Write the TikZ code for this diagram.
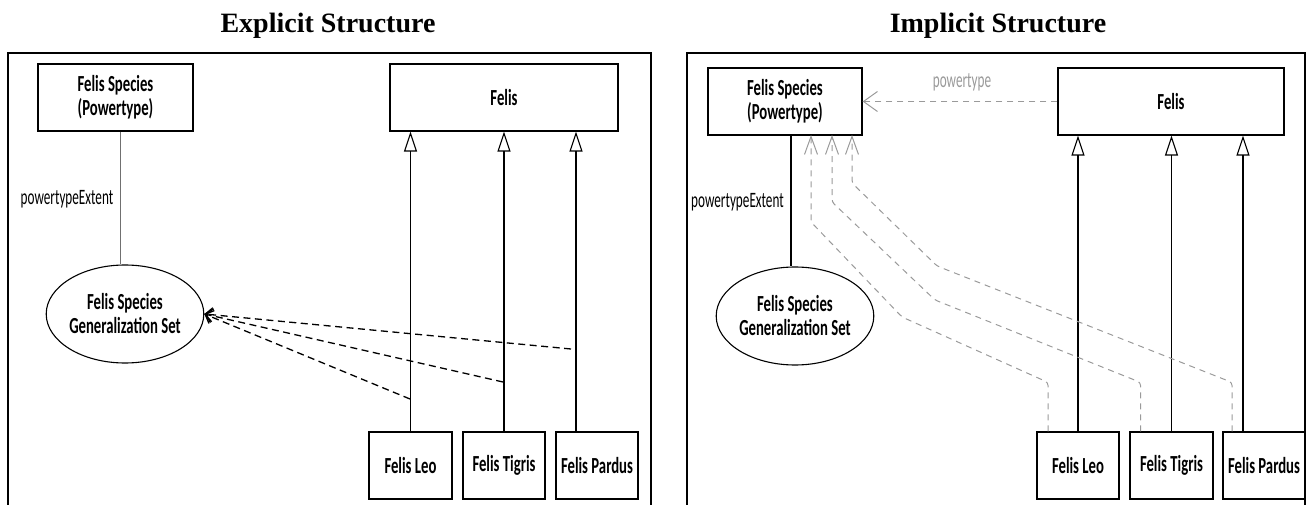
\documentclass[tikz,border=0pt]{standalone}
\usepackage{fontspec}
\setmainfont{Liberation Serif}
\newfontfamily\umlfont[FakeStretch=0.64]{Carlito}
\newfontfamily\umllabelfont[FakeStretch=0.6]{Carlito}
\usetikzlibrary{arrows.meta,shapes.geometric}
\definecolor{dashgray}{HTML}{9A9A9A}
\definecolor{linegray}{HTML}{707070}

\begin{document}
\begin{tikzpicture}[x=1pt,y=-1pt,
  cls/.style={draw, rectangle, line width=1.2pt, minimum height=67pt, align=center, inner sep=2pt,
    font=\umlfont\bfseries\fontsize{23}{24}\selectfont},
  gset/.style={draw, ellipse, line width=1.1pt, minimum width=154pt, minimum height=98pt, align=center,
    inner sep=0pt, font=\umlfont\bfseries\fontsize{23}{24}\selectfont},
  lbl/.style={font=\umllabelfont\fontsize{22}{22}\selectfont},
  title/.style={anchor=base, font=\bfseries\fontsize{28}{30}\selectfont},
  frame/.style={draw, line width=2.2pt},
  gen/.style={draw, line width=1.1pt, -{Triangle[open,length=20pt,width=13pt]}},
  gsdep/.style={draw, line width=1.3pt, dash pattern=on 7pt off 4.5pt, -{Straight Barb[length=7pt,width=14pt]}},
  ptdep/.style={draw, dashgray, line width=1pt, dash pattern=on 6pt off 5pt, rounded corners=3pt,
    -{Straight Barb[length=18pt,width=13pt]}}]
\useasboundingbox (0,0) rectangle (1307,505);
\clip (0,0) rectangle (1307,505);

% titles and frames
\node[title] (tExpl) at (328,33) {Explicit Structure};
\node[title] (tImpl) at (998,33) {Implicit Structure};
\path[frame] (8,53) rectangle (651,508);
\path[frame] (687,53) rectangle (1305,508);

% explicit structure
\node[cls, minimum width=155pt] (ptL) at (115.5,97.5) {Felis Species\\(Powertype)};
\node[cls, minimum width=228pt] (felisL) at (504,97.5) {Felis};
\node[gset] (gsL) at (125,314) {Felis Species\\Generalization Set};
\node[cls, minimum width=83pt] (leoL) at (410.5,465.5) {Felis Leo};
\node[cls, minimum width=82pt] (tigrisL) at (504,465.5) {Felis Tigris};
\node[cls, minimum width=82pt] (pardusL) at (597,465.5) {Felis Pardus};
\node[lbl] (extL) at (67,199) {powertypeExtent};

\path[draw,linegray,line width=1.1pt] ([xshift=5pt]ptL.south) -- ([xshift=5pt]ptL.south |- gsL.north);
\path[gen] (leoL.north) -- (leoL.north |- felisL.south);
\path[gen] (tigrisL.north) -- (tigrisL.north |- felisL.south);
\path[gen] ([xshift=-21pt]pardusL.north) -- ([xshift=-21pt]pardusL.north |- felisL.south);

\coordinate (onLeo) at (410,399);
\coordinate (onTigris) at (503,382);
\coordinate (onPardus) at (571,349);
\path[gsdep] (onLeo) -- (gsL.east);
\path[gsdep] (onTigris) -- (gsL.east);
\path[gsdep] (onPardus) -- (gsL.east);

% implicit structure
\node[cls, minimum width=154pt] (ptR) at (785,101.5) {Felis Species\\(Powertype)};
\node[cls, minimum width=226pt] (felisR) at (1171,101.5) {Felis};
\node[gset] (gsR) at (795,316) {Felis Species\\Generalization Set};
\node[cls, minimum width=82pt] (leoR) at (1078,465.5) {Felis Leo};
\node[cls, minimum width=83pt] (tigrisR) at (1171.5,465.5) {Felis Tigris};
\node[cls, minimum width=82pt] (pardusR) at (1264,465.5) {Felis Pardus};
\node[lbl] (extR) at (737.5,202) {powertypeExtent};
\node[lbl, dashgray] (ptLabel) at (962,82) {powertype};

\path[draw,line width=1.1pt] ([xshift=6pt]ptR.south) -- ([xshift=6pt]ptR.south |- gsR.north);
\path[gen] (leoR.north) -- (leoR.north |- felisR.south);
\path[gen] (tigrisR.north) -- (tigrisR.north |- felisR.south);
\path[gen] ([xshift=-21pt]pardusR.north) -- ([xshift=-21pt]pardusR.north |- felisR.south);

\path[ptdep, rounded corners=0pt, -{Straight Barb[length=14pt,width=20pt]}] (felisR.west) -- (ptR.east);
\path[ptdep] ([xshift=-30pt]leoR.north) -- ++(0,-49) -- (902,317) -- (811,222) -- (811,135);
\path[ptdep] ([xshift=-31pt]tigrisR.north) -- ++(0,-49) -- (935,300) -- (832,202) -- (832,135);
\path[ptdep] ([xshift=-32pt]pardusR.north) -- ++(0,-49) -- (937,266) -- (852,183) -- (852,135);
\end{tikzpicture}
\end{document}
